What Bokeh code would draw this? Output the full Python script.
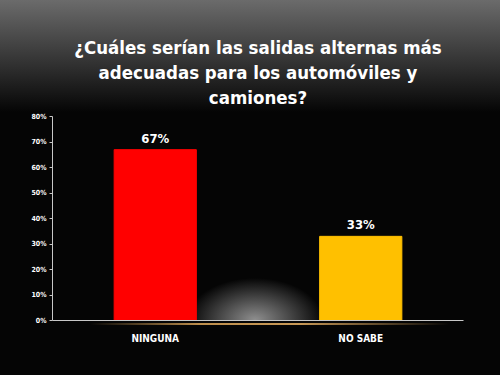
from bokeh.plotting import figure
from bokeh.models import ColumnDataSource, FixedTicker, PrintfTickFormatter, Title
from bokeh.core.properties import value
from bokeh.embed import file_html
from bokeh.resources import INLINE

categories = ["NINGUNA", "NO SABE"]
values = [67, 33]
colors = ["#ff0000", "#ffc000"]
labels = ["67%", "33%"]
y_ticks = [0, 10, 20, 30, 40, 50, 60, 70, 80]
title_lines = ["¿Cuáles serían las salidas alternas más",
               "adecuadas para los automóviles y",
               "camiones?"]

FONT = "DejaVu Sans Condensed"

src = ColumnDataSource(dict(cat=categories, val=values, color=colors, lab=labels))

p = figure(width=500, height=375, x_range=categories, y_range=(0, 80),
           output_backend="svg", toolbar_location=None,
           min_border_left=52, min_border_right=37, min_border_top=116, min_border_bottom=55)

p.title.text = ""
p.title.visible = False
# small spacer between the plot area and the title block
p.add_layout(Title(text=" ", text_font_size="6px", standoff=0), "above")
for line in reversed(title_lines):
    t = Title(text=line, align="center", text_color="white", text_font=FONT,
              text_font_style="bold", text_font_size="18.5px", standoff=2)
    p.add_layout(t, "above")

p.background_fill_alpha = 0
p.border_fill_alpha = 0
p.outline_line_color = None
p.styles = {
    "background-image": (
        "linear-gradient(90deg, rgba(0,0,0,0) 18%, rgba(200,150,80,0.95) 40%, rgba(210,160,90,0.95) 60%, rgba(0,0,0,0) 90%),"
        "radial-gradient(ellipse 68px 42px at 255px 320px, rgba(150,150,150,0.95), rgba(0,0,0,0)),"
        "linear-gradient(#6b6b6b 0px, #2c2c2c 70px, #050505 112px, #050505 100%)"
    ),
    "background-size": "100% 2px, 100% 320px, 100% 100%",
    "background-position": "0 323px, 0 0, 0 0",
    "background-repeat": "no-repeat",
}

p.vbar(x="cat", top="val", width=0.4, color="color", source=src)
p.text(x="cat", y="val", text="lab", source=src, text_align="center", text_baseline="bottom",
       y_offset=-4, text_color="white", text_font=value(FONT),
       text_font_style="bold", text_font_size="13px")

p.xgrid.grid_line_color = None
p.ygrid.grid_line_color = None

p.yaxis.ticker = FixedTicker(ticks=y_ticks)
p.yaxis.formatter = PrintfTickFormatter(format="%d%%")
p.yaxis.major_label_text_color = "white"
p.yaxis.major_label_text_font_size = "7px"
p.yaxis.major_label_text_font_style = "bold"
p.yaxis.major_label_text_font = FONT
p.yaxis.axis_line_color = "#c8c8c8"
p.yaxis.major_tick_line_color = "#c8c8c8"
p.yaxis.major_tick_out = 3
p.yaxis.major_tick_in = 0
p.yaxis.minor_tick_line_color = None
p.yaxis.major_label_standoff = 3

p.xaxis.axis_line_color = "#c8c8c8"
p.xaxis.major_tick_line_color = None
p.xaxis.major_label_text_color = "white"
p.xaxis.major_label_text_font_size = "10px"
p.xaxis.major_label_text_font_style = "bold"
p.xaxis.major_label_text_font = FONT
p.xaxis.major_label_standoff = 6

open("out.html", "w").write(file_html(p, INLINE))
